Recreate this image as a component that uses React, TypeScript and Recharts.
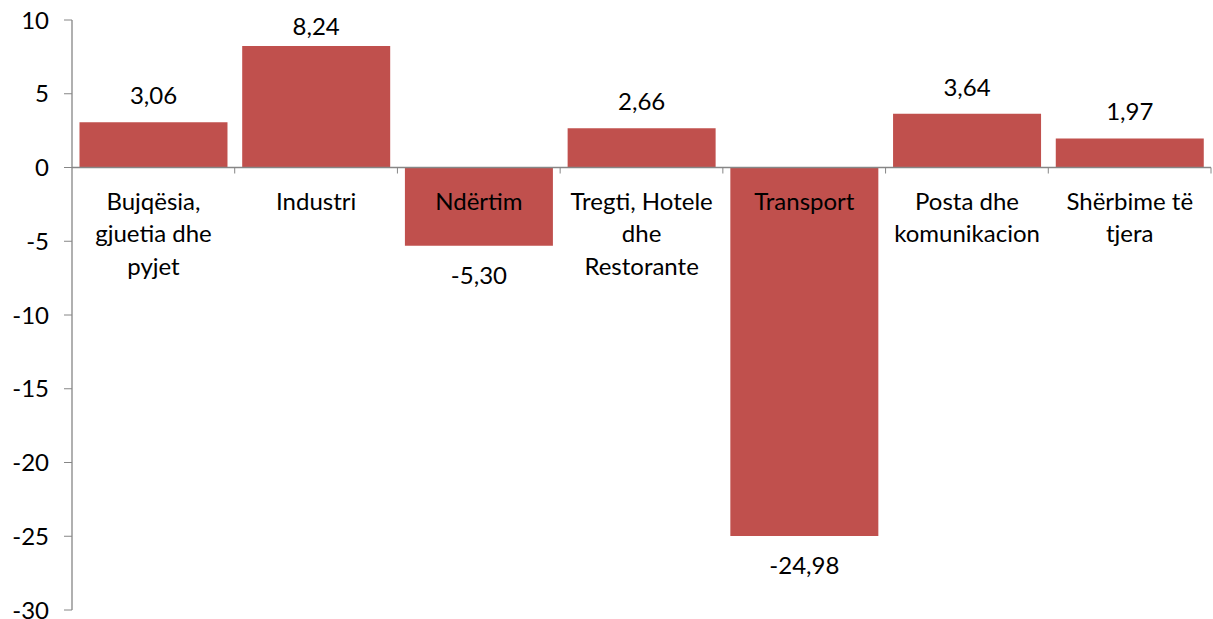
import { Bar, BarChart, LabelList, ReferenceLine, XAxis, YAxis } from "recharts";

const categories = [
  "Bujqësia,\ngjuetia dhe\npyjet",
  "Industri",
  "Ndërtim",
  "Tregti, Hotele\ndhe\nRestorante",
  "Transport",
  "Posta dhe\nkomunikacion",
  "Shërbime të\ntjera",
];
const values = [3.06, 8.24, -5.3, 2.66, -24.98, 3.64, 1.97];
const yTicks = [-30, -25, -20, -15, -10, -5, 0, 5, 10];

const data = categories.map((name, i) => ({ name, value: values[i] }));

const FONT = "Lato, 'Open Sans', sans-serif";
const FONT_SIZE = 24;
const AXIS_COLOR = "#868686";
const BAR_COLOR = "#C0504D";

function rectOf(props: any) {
  const vb = props.viewBox ?? {};
  return {
    x: Number(props.x ?? vb.x),
    y: Number(props.y ?? vb.y),
    width: Number(props.width ?? vb.width),
    height: Number(props.height ?? vb.height),
  };
}

// zero line with tick marks on the category boundaries
function ZeroAxis(props: any) {
  const { x1, x2, y1 } = props;
  const step = (x2 - x1) / categories.length;
  const marks = [];
  for (let i = 1; i <= categories.length; i++) {
    const x = x1 + step * i;
    marks.push(<line key={i} x1={x} x2={x} y1={y1} y2={y1 + 6} stroke={AXIS_COLOR} />);
  }
  return (
    <g>
      <line x1={x1} x2={x2} y1={y1} y2={y1} stroke={AXIS_COLOR} strokeWidth={1.3} />
      {marks}
    </g>
  );
}

function CategoryLabel(props: any) {
  const { x, y, width, height } = rectOf(props);
  const v = values[props.index];
  const zero = v >= 0 ? Math.max(y, y + height) : Math.min(y, y + height);
  const lines = String(props.value).split("\n");
  return (
    <text
      x={x + width / 2}
      y={zero + 42}
      textAnchor="middle"
      fill="#000"
      fontSize={FONT_SIZE}
      fontFamily={FONT}
    >
      {lines.map((line, i) => (
        <tspan key={i} x={x + width / 2} dy={i === 0 ? 0 : 32.5}>
          {line}
        </tspan>
      ))}
    </text>
  );
}

function ValueLabel(props: any) {
  const { x, y, width, height } = rectOf(props);
  const v = Number(props.value);
  const top = Math.min(y, y + height);
  const bottom = Math.max(y, y + height);
  const ty = v >= 0 ? Math.max(top - 18, 35) : bottom + 38;
  return (
    <text
      x={x + width / 2}
      y={ty}
      textAnchor="middle"
      fill="#000"
      fontSize={FONT_SIZE}
      fontFamily={FONT}
    >
      {v.toFixed(2).replace(".", ",")}
    </text>
  );
}

export default function App() {
  return (
    <div style={{ position: "absolute", left: 0, top: 0, background: "#fff" }}>
      <BarChart
        width={1213}
        height={619}
        data={data}
        margin={{ top: 20, right: 2, bottom: 9, left: 0 }}
        barCategoryGap="4.6%"
      >
        <XAxis dataKey="name" hide />
        <YAxis
          domain={[-30, 10]}
          ticks={yTicks}
          interval={0}
          width={72}
          axisLine={{ stroke: AXIS_COLOR, strokeWidth: 1.3 }}
          tickLine={{ stroke: AXIS_COLOR }}
          tickSize={8}
          tickMargin={15}
          tick={{ fill: "#000", fontSize: FONT_SIZE, fontFamily: FONT }}
        />
        <Bar dataKey="value" fill={BAR_COLOR} isAnimationActive={false}>
          <LabelList dataKey="name" content={CategoryLabel} />
          <LabelList dataKey="value" content={ValueLabel} />
        </Bar>
        <ReferenceLine y={0} shape={ZeroAxis} />
      </BarChart>
    </div>
  );
}
